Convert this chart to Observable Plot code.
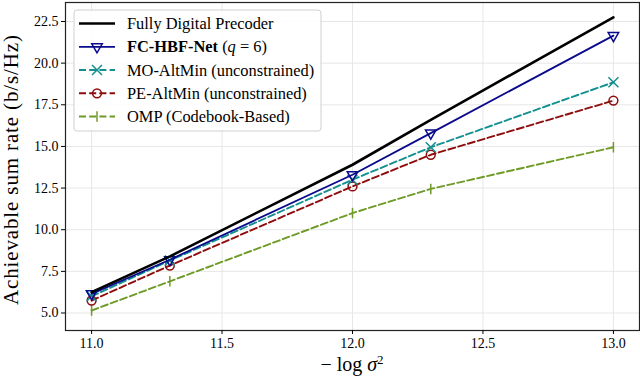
<!DOCTYPE html>
<html>
<head>
<meta charset="utf-8">
<script src="https://cdn.jsdelivr.net/npm/d3@7"></script>
<script src="https://cdn.jsdelivr.net/npm/@observablehq/plot@0.6"></script>
<style>
  html, body { margin: 0; padding: 0; background: #fff; }
  #chart svg { display: block; }
</style>
</head>
<body>
<div id="chart"></div>
<script>
// ---- data ----
const xValues = [11.0, 11.3, 12.0, 12.3, 13.0];
const seriesNames = ["Fully Digital Precoder", "FC-HBF-Net", "MO-AltMin (unconstrained)", "PE-AltMin (unconstrained)", "OMP (Codebook-Based)"];
const fullyDigital = [6.25, 8.4, 13.9, 16.6, 22.75];
const fcHbfNet = [6.15, 8.2, 13.3, 15.8, 21.65];
const moAltMin = [6.0, 8.15, 13.0, 14.95, 18.85];
const peAltMin = [5.75, 7.85, 12.6, 14.5, 17.75];
const omp = [5.15, 6.9, 11.0, 12.45, 14.95];
const xTicks = [11.0, 11.5, 12.0, 12.5, 13.0];
const yTicks = [5.0, 7.5, 10.0, 12.5, 15.0, 17.5, 20.0, 22.5];

const seriesValues = [fullyDigital, fcHbfNet, moAltMin, peAltMin, omp];

// ---- styles ----
const vbar = {draw(ctx, size) { const h = Math.sqrt(size / Math.PI) * 1.25; ctx.moveTo(0, -h); ctx.lineTo(0, h); }};
const styles = [
  {color: "#000000", width: 2.6, dash: null, symbol: null},
  {color: "#0a0a8c", width: 1.8, dash: null, symbol: d3.symbolTriangle, rotate: 180, r: 3.9},
  {color: "#13908f", width: 1.9, dash: "7,3.2", symbol: d3.symbolTimes, r: 4.6},
  {color: "#8e0c0c", width: 1.9, dash: "7,3.2", symbol: "circle", r: 4.4},
  {color: "#6e9a26", width: 1.9, dash: "7,3.2", symbol: vbar, r: 4.2}
];

const table = [];
seriesNames.forEach((name, i) => {
  xValues.forEach((x, j) => table.push({series: name, x, y: seriesValues[i][j], idx: i}));
});

const marks = [
  Plot.gridX(xTicks, {stroke: "#e4e4e4", strokeOpacity: 1, strokeWidth: 0.9}),
  Plot.gridY(yTicks, {stroke: "#e4e4e4", strokeOpacity: 1, strokeWidth: 0.9})
];
[4, 3, 2, 1, 0].forEach(i => {
  const s = styles[i];
  const d = table.filter(r => r.idx === i);
  marks.push(Plot.line(d, {x: "x", y: "y", stroke: s.color, strokeWidth: s.width, strokeDasharray: s.dash || undefined}));
  if (s.symbol) {
    marks.push(Plot.dot(d, {x: "x", y: "y", stroke: s.color, fill: "none", strokeWidth: 1.5, r: s.r, symbol: s.symbol, rotate: s.rotate || 0}));
  }
});
marks.push(
  Plot.frame({stroke: "#222", strokeWidth: 1.2}),
  Plot.axisX({ticks: xTicks, tickFormat: d => d.toFixed(1), tickSize: 4, tickPadding: 4, fontSize: 14, label: null}),
  Plot.axisY({ticks: yTicks, tickFormat: d => d.toFixed(1), tickSize: 4, tickPadding: 3, fontSize: 14, label: null})
);

const serif = "Liberation Serif, Times New Roman, serif";

const chart = Plot.plot({
  width: 640,
  height: 378,
  marginLeft: 65,
  marginRight: 1,
  marginTop: 2,
  marginBottom: 48,
  x: {domain: [10.9, 13.1]},
  y: {domain: [3.95, 23.64]},
  style: {fontFamily: serif, fontSize: "14px", color: "#000", background: "#fff", overflow: "visible"},
  marks
});
document.getElementById("chart").appendChild(chart);

// ---- axis titles & legend ----
const svg = d3.select(chart);

svg.append("text")
  .attr("transform", "translate(18,170) rotate(-90)")
  .attr("text-anchor", "middle")
  .attr("font-family", serif).attr("font-size", 21)
  .attr("fill", "#000")
  .attr("textLength", 270).attr("lengthAdjust", "spacing")
  .text("Achievable sum rate (b/s/Hz)");

const xl = svg.append("text")
  .attr("x", 352).attr("y", 371)
  .attr("text-anchor", "middle")
  .attr("font-family", serif).attr("font-size", 20)
  .attr("fill", "#000");
xl.append("tspan").text("\u2212 log ");
xl.append("tspan").attr("font-style", "italic").text("\u03c3");
xl.append("tspan").attr("font-size", 13).attr("dy", -7).text("2");

const lg = svg.append("g").attr("text-anchor", "start");
lg.append("rect")
  .attr("x", 74).attr("y", 10).attr("width", 247).attr("height", 121)
  .attr("rx", 3).attr("fill", "#fff").attr("fill-opacity", 0.85)
  .attr("stroke", "#d0d0d0").attr("stroke-width", 1);

const rowY = [23.5, 46.8, 70, 93.3, 116.5];
seriesNames.forEach((name, i) => {
  const s = styles[i];
  const y = rowY[i];
  lg.append("line").attr("x1", 79).attr("x2", 115).attr("y1", y).attr("y2", y)
    .attr("stroke", s.color).attr("stroke-width", s.width)
    .attr("stroke-dasharray", s.dash || null);
  if (s.symbol) {
    const type = s.symbol === "circle" ? d3.symbolCircle : s.symbol;
    lg.append("path")
      .attr("d", d3.symbol(type, Math.PI * s.r * s.r)())
      .attr("transform", `translate(97,${y}) rotate(${s.rotate || 0})`)
      .attr("fill", "none").attr("stroke", s.color).attr("stroke-width", 1.5);
  }
  const t = lg.append("text").attr("x", 127).attr("y", y + 5.5)
    .attr("text-anchor", "start")
    .attr("font-family", serif).attr("font-size", 16.4).attr("fill", "#000");
  if (i === 1) {
    t.append("tspan").attr("font-weight", "bold").text(name);
    t.append("tspan").text(" (");
    t.append("tspan").attr("font-style", "italic").text("q");
    t.append("tspan").text(" = 6)");
  } else {
    t.text(name);
  }
});
</script>
</body>
</html>
